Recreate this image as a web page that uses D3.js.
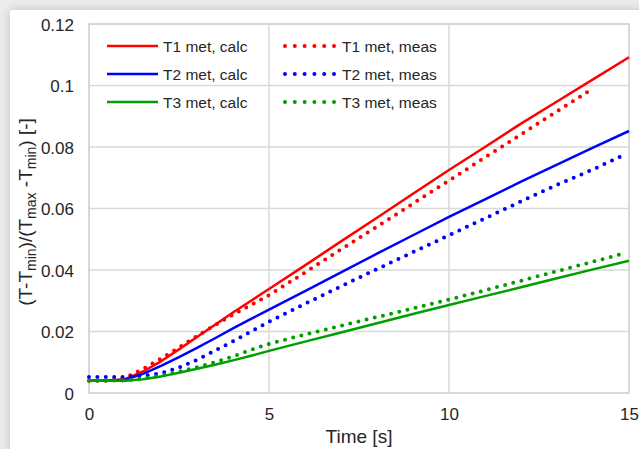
<!DOCTYPE html>
<html>
<head>
<meta charset="utf-8">
<script src="https://cdn.jsdelivr.net/npm/d3@7/dist/d3.min.js"></script>
<style>
  html, body { margin: 0; padding: 0; width: 639px; height: 449px; overflow: hidden; background: #ececec; }
  #card { position: absolute; left: 10px; top: 10px; width: 660px; height: 470px; background: #fff;
          box-shadow: 0 0 9px rgba(0,0,0,0.18); }
  svg { position: absolute; left: 0; top: 0; }
  text { font-family: "Liberation Sans", Arial, sans-serif; fill: #262626; }
</style>
</head>
<body>
<div id="card"></div>
<svg id="chart" width="639" height="449"></svg>
<script>
// ---- data ----
const timeCalc = [0, 0.5, 1, 1.5, 2, 2.5, 3, 3.5, 4, 4.5, 5, 6, 7, 8, 9, 10, 11, 12, 13, 14, 15];
const t1Calc = [0.0040, 0.0040, 0.0045, 0.0070, 0.0103, 0.0142, 0.0182, 0.0222, 0.0262, 0.0300, 0.0338, 0.0415, 0.0493, 0.0570, 0.0648, 0.0725, 0.0800, 0.0876, 0.0948, 0.1020, 0.1092];
const t2Calc = [0.0040, 0.0040, 0.0043, 0.0062, 0.0088, 0.0117, 0.0147, 0.0178, 0.0210, 0.0241, 0.0271, 0.0331, 0.0392, 0.0453, 0.0513, 0.0573, 0.0630, 0.0687, 0.0743, 0.0798, 0.0852];
const t3Calc = [0.0040, 0.0040, 0.0040, 0.0045, 0.0054, 0.0066, 0.0079, 0.0092, 0.0106, 0.0121, 0.0137, 0.0167, 0.0197, 0.0227, 0.0257, 0.0286, 0.0315, 0.0344, 0.0373, 0.0402, 0.0430];

const t1MeasTime = [0, 0.5, 1, 1.5, 2, 2.5, 3, 3.5, 4, 4.5, 5, 6, 7, 8, 9, 10, 11, 12, 13, 13.9];
const t1Meas = [0.0040, 0.0040, 0.0050, 0.0078, 0.0112, 0.0148, 0.0185, 0.0221, 0.0255, 0.0286, 0.0318, 0.0392, 0.0467, 0.0541, 0.0616, 0.0691, 0.0766, 0.0841, 0.0916, 0.0983];
const t2MeasTime = [0, 0.5, 1, 1.5, 2, 2.5, 3, 3.5, 4, 4.5, 5, 6, 7, 8, 9, 10, 11, 12, 13, 14, 14.8];
const t2Meas = [0.0052, 0.0052, 0.0052, 0.0056, 0.0064, 0.0083, 0.0108, 0.0138, 0.0168, 0.0200, 0.0232, 0.0290, 0.0347, 0.0403, 0.0458, 0.0513, 0.0568, 0.0623, 0.0677, 0.0727, 0.0771];
const t3MeasTime = [0, 0.5, 1, 1.5, 2, 2.5, 3, 3.5, 4, 4.5, 5, 6, 7, 8, 9, 10, 11, 12, 13, 14, 14.9];
const t3Meas = [0.0040, 0.0040, 0.0041, 0.0047, 0.0056, 0.0069, 0.0084, 0.0100, 0.0119, 0.0140, 0.0160, 0.0190, 0.0219, 0.0247, 0.0275, 0.0304, 0.0334, 0.0365, 0.0396, 0.0427, 0.0455];

const xTicks = [0, 5, 10, 15];
const yTicks = [0, 0.02, 0.04, 0.06, 0.08, 0.1, 0.12];
const yTickLabels = ["0", "0.02", "0.04", "0.06", "0.08", "0.1", "0.12"];
const legendNames = ["T1 met, calc", "T2 met, calc", "T3 met, calc", "T1 met, meas", "T2 met, meas", "T3 met, meas"];

const colors = { T1: "#ff0000", T2: "#0000ff", T3: "#009e00" };

const series = [
  { name: legendNames[0], x: timeCalc, y: t1Calc, color: colors.T1, dotted: false },
  { name: legendNames[1], x: timeCalc, y: t2Calc, color: colors.T2, dotted: false },
  { name: legendNames[2], x: timeCalc, y: t3Calc, color: colors.T3, dotted: false },
  { name: legendNames[3], x: t1MeasTime, y: t1Meas, color: colors.T1, dotted: true },
  { name: legendNames[4], x: t2MeasTime, y: t2Meas, color: colors.T2, dotted: true },
  { name: legendNames[5], x: t3MeasTime, y: t3Meas, color: colors.T3, dotted: true }
];

// ---- layout ----
const pLeft = 89, pRight = 629, pTop = 24, pBottom = 393;
const x = d3.scaleLinear().domain([0, 15]).range([pLeft, pRight]);
const y = d3.scaleLinear().domain([0, 0.12]).range([pBottom, pTop]);

const svg = d3.select("#chart");
const gridColor = "#d9d9d9";

// gridlines
svg.append("g").selectAll("line").data(yTicks).join("line")
  .attr("x1", pLeft).attr("x2", pRight)
  .attr("y1", d => y(d)).attr("y2", d => y(d))
  .attr("stroke", gridColor).attr("stroke-width", 1.5);
svg.append("g").selectAll("line").data(xTicks).join("line")
  .attr("x1", d => x(d)).attr("x2", d => x(d))
  .attr("y1", pTop).attr("y2", pBottom)
  .attr("stroke", gridColor).attr("stroke-width", 1.5);
// border
svg.append("rect").attr("x", pLeft).attr("y", pTop)
  .attr("width", pRight - pLeft).attr("height", pBottom - pTop)
  .attr("fill", "none").attr("stroke", "#d4d4d4").attr("stroke-width", 1.5);

// axes (labels only)
const xAxis = d3.axisBottom(x).tickValues(xTicks).tickSize(0).tickPadding(0).tickFormat(d3.format("d"));
const gx = svg.append("g").attr("transform", `translate(0,${pBottom})`).call(xAxis);
gx.select(".domain").remove();
gx.selectAll("text").attr("dy", null).attr("y", 27).attr("font-size", 17)
  .attr("font-family", "Liberation Sans, Arial, sans-serif").attr("fill", "#262626");

const yAxis = d3.axisLeft(y).tickValues(yTicks).tickSize(0).tickPadding(15)
  .tickFormat((d, i) => yTickLabels[i]);
const gy = svg.append("g").attr("transform", `translate(${pLeft},0)`).call(yAxis);
gy.select(".domain").remove();
gy.selectAll("text").attr("font-size", 17).attr("dy", "0.36em")
  .attr("font-family", "Liberation Sans, Arial, sans-serif").attr("fill", "#262626");

// axis titles
svg.append("text").attr("x", (pLeft + pRight) / 2).attr("y", 443)
  .attr("text-anchor", "middle").attr("font-size", 19).text("Time [s]");

const yt = svg.append("text").attr("text-anchor", "middle").attr("font-size", 19)
  .attr("transform", "translate(32,212) rotate(-90)");
const parts = [["(T-T", false], ["min", true], [")/(T", false], ["max", true], [" -T", false], ["min", true], [") [-]", false]];
parts.forEach(([s, sub], i) => {
  const prevSub = i > 0 ? parts[i - 1][1] : false;
  const ts = yt.append("tspan").text(s)
    .attr("dy", sub ? (prevSub ? 0 : 4) : (prevSub ? -4 : 0));
  if (sub) ts.attr("font-size", 14);
});

// series
const line = d3.line().x(d => x(d[0])).y(d => y(d[1]));
const plot = svg.append("g");
series.forEach(s => {
  const pts = s.x.map((t, i) => [t, s.y[i]]);
  const p = plot.append("path").datum(pts).attr("d", line)
    .attr("fill", "none").attr("stroke", s.color);
  if (s.dotted) {
    p.attr("stroke-width", 4).attr("stroke-linecap", "round").attr("stroke-dasharray", "0 8.4");
  } else {
    p.attr("stroke-width", 2.5).attr("stroke-linejoin", "round");
  }
});

// legend
const legend = svg.append("g");
const rowY = [46, 74, 102];
series.forEach((s, i) => {
  const col = i < 3 ? 0 : 1;
  const row = i % 3;
  const x0 = col === 0 ? 107 : 285;
  const x1 = col === 0 ? 158 : 335;
  const ly = rowY[row];
  const l = legend.append("line").attr("x1", x0).attr("x2", x1).attr("y1", ly).attr("y2", ly)
    .attr("stroke", s.color);
  if (s.dotted) {
    l.attr("stroke-width", 4).attr("stroke-linecap", "round").attr("stroke-dasharray", "0 9.8");
  } else {
    l.attr("stroke-width", 2.5);
  }
  legend.append("text").attr("x", col === 0 ? 163 : 342).attr("y", ly + 6)
    .attr("font-size", 15.5).text(s.name);
});
</script>
</body>
</html>
